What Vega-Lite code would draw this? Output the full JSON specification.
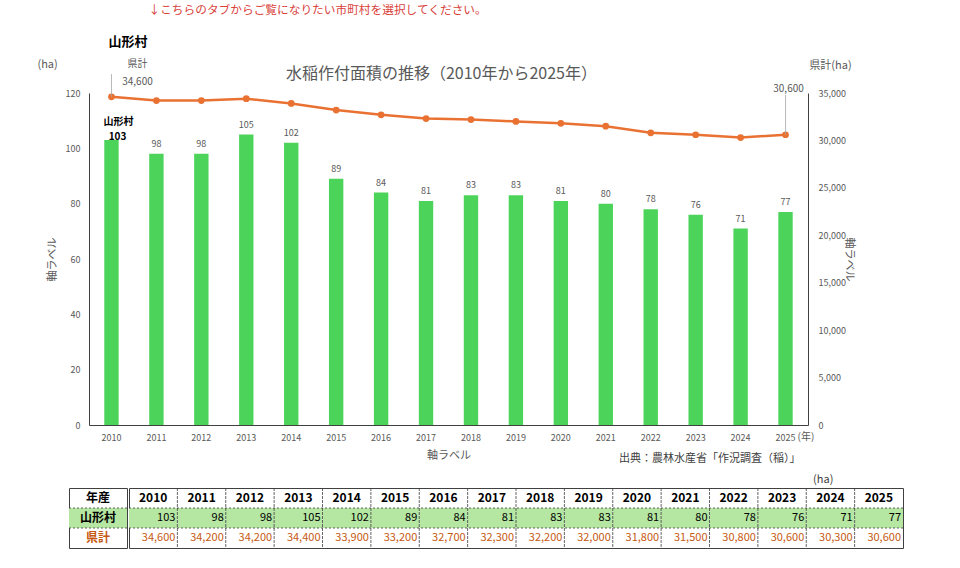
{
  "$schema": "https://vega.github.io/schema/vega-lite/v6.json",
  "background": "white",
  "padding": {"left": 37, "top": 5, "right": 5, "bottom": 5},
  "config": {"font": "Noto Sans CJK JP", "view": {"stroke": null}},
  "title": {"text": "↓こちらのタブからご覧になりたい市町村を選択してください。", "anchor": "start", "dx": 111, "color": "#d9413a", "fontSize": 11.7, "fontWeight": "normal", "offset": 19},
  "datasets": {
    "d": [
      {"year": "2010", "山形村": 103, "県計": 34600},
      {"year": "2011", "山形村": 98, "県計": 34200},
      {"year": "2012", "山形村": 98, "県計": 34200},
      {"year": "2013", "山形村": 105, "県計": 34400},
      {"year": "2014", "山形村": 102, "県計": 33900},
      {"year": "2015", "山形村": 89, "県計": 33200},
      {"year": "2016", "山形村": 84, "県計": 32700},
      {"year": "2017", "山形村": 81, "県計": 32300},
      {"year": "2018", "山形村": 83, "県計": 32200},
      {"year": "2019", "山形村": 83, "県計": 32000},
      {"year": "2020", "山形村": 81, "県計": 31800},
      {"year": "2021", "山形村": 80, "県計": 31500},
      {"year": "2022", "山形村": 78, "県計": 30800},
      {"year": "2023", "山形村": 76, "県計": 30600},
      {"year": "2024", "山形村": 71, "県計": 30300},
      {"year": "2025", "山形村": 77, "県計": 30600}
    ],
    "rows": [{"row": "年産"}, {"row": "山形村"}, {"row": "県計"}]
  },
  "spacing": 9,
  "vconcat": [
    {
      "spacing": 0,
      "bounds": "flush",
      "hconcat": [
        {
          "width": 20,
          "height": 332,
          "view": {"stroke": null},
          "data": {"values": []},
          "mark": {"type": "rect"},
          "encoding": {}
        },
        {
          "width": 719,
          "height": 332,
          "data": {"name": "d"},
          "encoding": {
            "x": {"field": "year", "type": "ordinal", "scale": {"paddingInner": 0.68, "paddingOuter": 0.34},
              "axis": {"labelAngle": 0, "ticks": false, "domainColor": "#404040", "labelColor": "#595959", "labelFontSize": 9, "labelPadding": 8, "title": "軸ラベル", "titleColor": "#595959", "titleFontSize": 11, "titleFontWeight": "normal", "titlePadding": 7}}
          },
          "layer": [
            {
              "encoding": {
                "y": {"field": "山形村", "type": "quantitative", "scale": {"domain": [0, 120]},
                  "axis": {"values": [0, 20, 40, 60, 80, 100, 120], "grid": false, "ticks": false, "domainColor": "#404040", "labelColor": "#595959", "labelFontSize": 9, "labelPadding": 9, "title": "軸ラベル", "titleColor": "#595959", "titleFontSize": 11, "titleFontWeight": "normal", "titlePadding": 8}}
              },
              "layer": [
                {"mark": {"type": "bar", "color": "#4cd45a"}},
                {"transform": [{"filter": "datum.year != '2010'"}],
                  "mark": {"type": "text", "baseline": "bottom", "dy": -5, "fontSize": 9, "color": "#595959"},
                  "encoding": {"text": {"field": "山形村", "type": "quantitative"}}},
                {"transform": [{"filter": "datum.year == '2010'"}],
                  "mark": {"type": "text", "baseline": "bottom", "dy": 2, "dx": 6, "fontSize": 10, "fontWeight": "bold", "color": "#000000"},
                  "encoding": {"text": {"field": "山形村", "type": "quantitative"}}},
                {"transform": [{"filter": "datum.year == '2010'"}],
                  "mark": {"type": "text", "baseline": "bottom", "dy": -13, "dx": 7, "fontSize": 10, "fontWeight": "bold", "color": "#000000", "text": "山形村"}},
                {"transform": [{"filter": "datum.year == '2010'"}],
                  "mark": {"type": "text", "text": "(ha)", "align": "left", "baseline": "middle", "dx": -74, "dy": -75, "fontSize": 11, "color": "#595959"}},
                {"transform": [{"filter": "datum.year == '2010'"}],
                  "mark": {"type": "text", "text": "山形村", "align": "left", "baseline": "middle", "dx": -3, "dy": -98, "fontSize": 13, "fontWeight": "bold", "color": "#000000"}},
                {"transform": [{"filter": "datum.year == '2010'"}],
                  "mark": {"type": "text", "text": "水稲作付面積の推移（2010年から2025年）", "align": "center", "baseline": "middle", "dx": 330, "dy": -66, "fontSize": 16, "color": "#595959"}},
                {"transform": [{"filter": "datum.year == '2025'"}],
                  "mark": {"type": "text", "text": "(年)", "align": "left", "baseline": "middle", "dx": 12, "dy": 225, "fontSize": 10, "color": "#595959"}},
                {"transform": [{"filter": "datum.year == '2025'"}],
                  "mark": {"type": "text", "text": "出典：農林水産省「作況調査（稲）」", "align": "right", "baseline": "middle", "dx": 15, "dy": 247, "fontSize": 11, "color": "#404040"}}
              ]
            },
            {
              "encoding": {
                "y": {"field": "県計", "type": "quantitative", "scale": {"domain": [0, 35000]},
                  "axis": {"orient": "right", "values": [0, 5000, 10000, 15000, 20000, 25000, 30000, 35000], "format": ",d", "grid": false, "ticks": false, "domainColor": "#404040", "labelColor": "#595959", "labelFontSize": 9, "labelPadding": 10, "title": "軸ラベル", "titleColor": "#595959", "titleFontSize": 11, "titleFontWeight": "normal", "titlePadding": -2}}
              },
              "layer": [
                {"mark": {"type": "line", "color": "#e97132", "strokeWidth": 2.5}},
                {"mark": {"type": "point", "filled": true, "size": 45, "color": "#e97132", "opacity": 1}},
                {"transform": [{"filter": "datum.year == '2010'"}],
                  "mark": {"type": "rule", "color": "#a6a6a6", "strokeWidth": 0.8},
                  "encoding": {"y2": {"datum": 37000}}},
                {"transform": [{"filter": "datum.year == '2025'"}],
                  "mark": {"type": "rule", "color": "#a6a6a6", "strokeWidth": 0.8},
                  "encoding": {"y2": {"datum": 34800}}},
                {"transform": [{"filter": "datum.year == '2010'"}],
                  "mark": {"type": "text", "baseline": "middle", "align": "center", "dx": 26, "dy": -15, "fontSize": 10, "color": "#595959"},
                  "encoding": {"text": {"field": "県計", "type": "quantitative", "format": ","}}},
                {"transform": [{"filter": "datum.year == '2010'"}],
                  "mark": {"type": "text", "baseline": "middle", "align": "center", "dx": 26, "dy": -33, "fontSize": 10, "color": "#595959", "text": "県計"}},
                {"transform": [{"filter": "datum.year == '2025'"}],
                  "mark": {"type": "text", "baseline": "middle", "align": "center", "dx": 3, "dy": -46, "fontSize": 10, "color": "#595959"},
                  "encoding": {"text": {"field": "県計", "type": "quantitative", "format": ","}}},
                {"transform": [{"filter": "datum.year == '2025'"}],
                  "mark": {"type": "text", "text": "県計(ha)", "align": "center", "baseline": "middle", "dx": 45, "dy": -69, "fontSize": 11, "color": "#595959"}}
              ]
            }
          ],
          "resolve": {"scale": {"y": "independent"}, "axis": {"y": "independent"}}
        }
      ]
    },
    {
      "spacing": 0,
      "hconcat": [
        {
          "width": 58,
          "height": 60,
          "view": {"stroke": "#404040"},
          "data": {"name": "rows"},
          "layer": [
            {"transform": [{"filter": "datum.row == '山形村'"}],
              "mark": {"type": "rect", "color": "#b5e6a2"},
              "encoding": {"y": {"field": "row", "type": "ordinal", "scale": {"domain": ["年産", "山形村", "県計"], "paddingInner": 0, "paddingOuter": 0}, "axis": null}}},
            {"transform": [{"filter": "datum.row != '年産'"}],
              "mark": {"type": "rule", "strokeDash": [2, 2], "color": "#404040", "strokeWidth": 0.8},
              "encoding": {"y": {"field": "row", "type": "ordinal", "bandPosition": 0}}},
            {"mark": {"type": "text", "fontWeight": "bold", "fontSize": 12},
              "encoding": {"y": {"field": "row", "type": "ordinal"}, "text": {"field": "row"},
                "color": {"field": "row", "type": "nominal", "scale": {"domain": ["年産", "山形村", "県計"], "range": ["#000000", "#000000", "#c65911"]}, "legend": null}}}
          ]
        },
        {
          "width": 774,
          "height": 60,
          "view": {"stroke": "#404040"},
          "title": {"text": "(ha)", "anchor": "end", "dx": -70, "fontSize": 11, "fontWeight": "normal", "color": "#404040", "offset": 3},
          "layer": [
            {"data": {"name": "d"},
              "mark": {"type": "rect", "color": "#b5e6a2"},
              "encoding": {
                "x": {"field": "year", "type": "ordinal", "scale": {"paddingInner": 0, "paddingOuter": 0}, "axis": null},
                "y": {"datum": "山形村", "type": "ordinal", "scale": {"domain": ["年産", "山形村", "県計"], "paddingInner": 0, "paddingOuter": 0}, "axis": null}}},
            {"data": {"name": "rows"},
              "transform": [{"filter": "datum.row != '年産'"}],
              "mark": {"type": "rule", "strokeDash": [2, 2], "color": "#404040", "strokeWidth": 0.8},
              "encoding": {"y": {"field": "row", "type": "ordinal", "bandPosition": 0}}},
            {"data": {"name": "d"},
              "transform": [{"filter": "datum.year != '2010'"}],
              "mark": {"type": "rule", "strokeDash": [3, 1], "color": "#404040", "strokeWidth": 0.8},
              "encoding": {"x": {"field": "year", "type": "ordinal", "bandPosition": 0}}},
            {"data": {"name": "d"},
              "mark": {"type": "text", "fontWeight": "bold", "fontSize": 12, "color": "#000000"},
              "encoding": {"x": {"field": "year", "type": "ordinal"}, "y": {"datum": "年産", "type": "ordinal"}, "text": {"field": "year"}}},
            {"data": {"name": "d"},
              "transform": [{"fold": ["山形村", "県計"], "as": ["row", "value"]}],
              "mark": {"type": "text", "align": "right", "dx": -2, "fontSize": 11},
              "encoding": {
                "x": {"field": "year", "type": "ordinal", "bandPosition": 1},
                "y": {"field": "row", "type": "ordinal"},
                "text": {"field": "value", "type": "quantitative", "format": ","},
                "color": {"field": "row", "type": "nominal", "scale": {"domain": ["山形村", "県計"], "range": ["#000000", "#c65911"]}, "legend": null}}}
          ]
        }
      ]
    }
  ]
}
